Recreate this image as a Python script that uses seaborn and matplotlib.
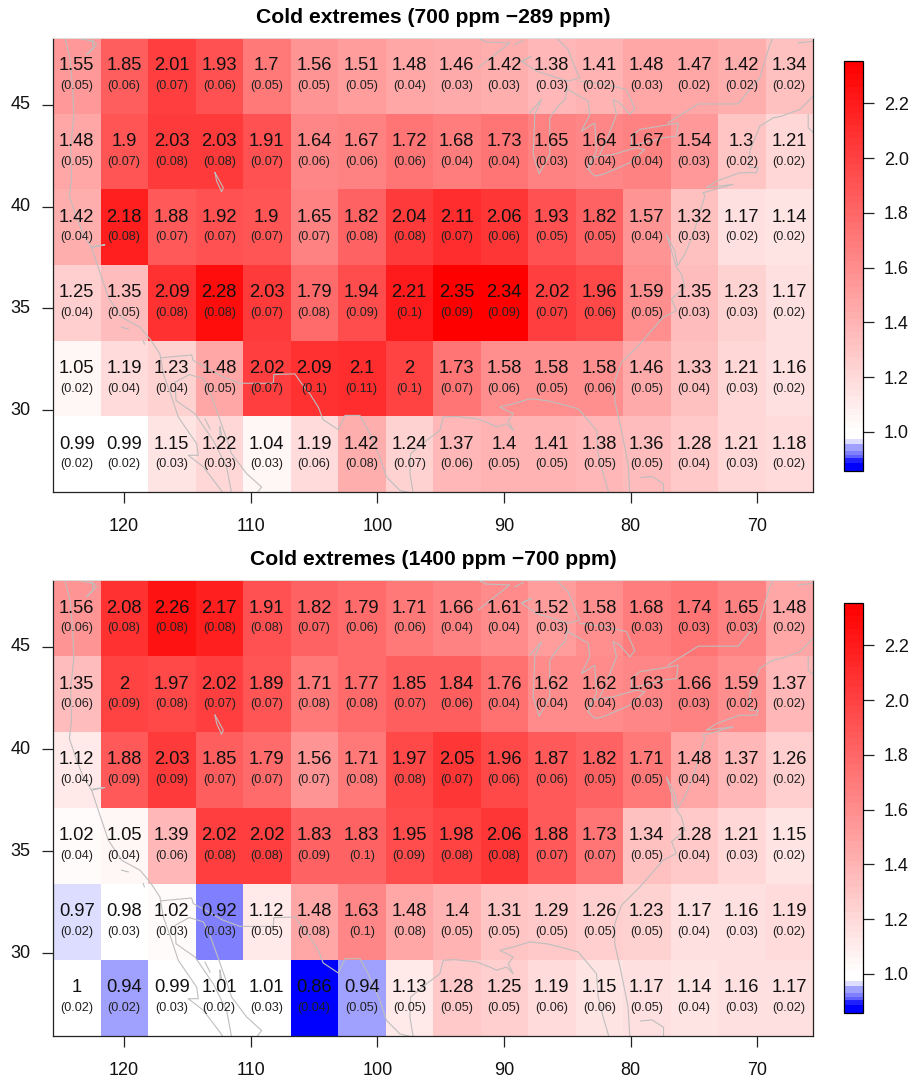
import numpy as np
import matplotlib
matplotlib.use("Agg")
import matplotlib.pyplot as plt
from matplotlib.colors import ListedColormap, BoundaryNorm
import seaborn as sns

titles = ["Cold extremes (700 ppm \u2212289 ppm)", "Cold extremes (1400 ppm \u2212700 ppm)"]

ratio_700 = [
    [1.55, 1.85, 2.01, 1.93, 1.7, 1.56, 1.51, 1.48, 1.46, 1.42, 1.38, 1.41, 1.48, 1.47, 1.42, 1.34],
    [1.48, 1.9, 2.03, 2.03, 1.91, 1.64, 1.67, 1.72, 1.68, 1.73, 1.65, 1.64, 1.67, 1.54, 1.3, 1.21],
    [1.42, 2.18, 1.88, 1.92, 1.9, 1.65, 1.82, 2.04, 2.11, 2.06, 1.93, 1.82, 1.57, 1.32, 1.17, 1.14],
    [1.25, 1.35, 2.09, 2.28, 2.03, 1.79, 1.94, 2.21, 2.35, 2.34, 2.02, 1.96, 1.59, 1.35, 1.23, 1.17],
    [1.05, 1.19, 1.23, 1.48, 2.02, 2.09, 2.1, 2, 1.73, 1.58, 1.58, 1.58, 1.46, 1.33, 1.21, 1.16],
    [0.99, 0.99, 1.15, 1.22, 1.04, 1.19, 1.42, 1.24, 1.37, 1.4, 1.41, 1.38, 1.36, 1.28, 1.21, 1.18],
]
se_700 = [
    [.05, .06, .07, .06, .05, .05, .05, .04, .03, .03, .03, .02, .03, .02, .02, .02],
    [.05, .07, .08, .08, .07, .06, .06, .06, .04, .04, .03, .04, .04, .03, .02, .02],
    [.04, .08, .07, .07, .07, .07, .08, .08, .07, .06, .05, .05, .04, .03, .02, .02],
    [.04, .05, .08, .08, .07, .08, .09, .1, .09, .09, .07, .06, .05, .03, .03, .02],
    [.02, .04, .04, .05, .07, .1, .11, .1, .07, .06, .05, .06, .05, .04, .03, .02],
    [.02, .02, .03, .03, .03, .06, .08, .07, .06, .05, .05, .05, .05, .04, .03, .02],
]
ratio_1400 = [
    [1.56, 2.08, 2.26, 2.17, 1.91, 1.82, 1.79, 1.71, 1.66, 1.61, 1.52, 1.58, 1.68, 1.74, 1.65, 1.48],
    [1.35, 2, 1.97, 2.02, 1.89, 1.71, 1.77, 1.85, 1.84, 1.76, 1.62, 1.62, 1.63, 1.66, 1.59, 1.37],
    [1.12, 1.88, 2.03, 1.85, 1.79, 1.56, 1.71, 1.97, 2.05, 1.96, 1.87, 1.82, 1.71, 1.48, 1.37, 1.26],
    [1.02, 1.05, 1.39, 2.02, 2.02, 1.83, 1.83, 1.95, 1.98, 2.06, 1.88, 1.73, 1.34, 1.28, 1.21, 1.15],
    [0.97, 0.98, 1.02, 0.92, 1.12, 1.48, 1.63, 1.48, 1.4, 1.31, 1.29, 1.26, 1.23, 1.17, 1.16, 1.19],
    [1, 0.94, 0.99, 1.01, 1.01, 0.86, 0.94, 1.13, 1.28, 1.25, 1.19, 1.15, 1.17, 1.14, 1.16, 1.17],
]
se_1400 = [
    [.06, .08, .08, .08, .08, .07, .06, .06, .04, .04, .03, .03, .03, .03, .03, .02],
    [.06, .09, .08, .07, .07, .08, .08, .07, .06, .04, .04, .04, .03, .03, .02, .02],
    [.04, .09, .09, .07, .07, .07, .08, .08, .07, .06, .06, .05, .05, .04, .02, .02],
    [.04, .04, .06, .08, .08, .09, .1, .09, .08, .08, .07, .07, .05, .04, .03, .02],
    [.02, .03, .03, .03, .05, .08, .1, .08, .05, .05, .05, .05, .05, .04, .03, .02],
    [.02, .02, .03, .02, .03, .04, .05, .05, .05, .05, .06, .06, .05, .04, .03, .02],
]

lon_ticks = [120, 110, 100, 90, 80, 70]
lat_ticks = [30, 35, 40, 45]
cbar_ticks = [1.0, 1.2, 1.4, 1.6, 1.8, 2.0, 2.2]

# map outlines, (lon W, lat N)
west_coast = [(124.66, 48.28), (124.26, 47.30), (124.05, 45.83), (123.95, 44.52), (124.21, 42.89), (124.13, 41.42),
              (124.31, 40.52), (123.73, 39.46), (123.21, 38.64), (122.55, 37.99), (122.29, 37.50), (122.03, 37.01),
              (121.76, 36.52), (121.23, 35.54), (120.18, 34.56), (118.73, 34.07), (117.95, 33.50), (117.16, 32.76),
              (116.89, 31.78), (116.23, 30.64), (115.71, 29.66), (114.26, 28.35), (114.13, 27.78), (114.92, 27.78),
              (113.73, 27.21), (112.42, 26.14), (112.16, 25.9)]
baja_east = [(114.84, 31.75), (115.97, 31.37), (115.89, 30.47), (114.39, 29.82), (112.95, 28.51), (111.89, 27.21), (111.5, 25.9)]
mexico_west = [(114.84, 31.75), (113.73, 31.54), (113.21, 30.88), (112.68, 29.98), (112.03, 28.84), (111.5, 27.86),
               (110.31, 26.88), (109.13, 26.22), (109.53, 25.9)]
south_border = [(117.08, 32.57), (114.66, 32.71), (114.53, 32.44), (112.16, 31.62), (110.84, 31.32), (108.21, 31.32),
                (108.16, 31.75), (106.5, 31.78), (106.05, 31.37), (105.32, 30.8), (104.66, 30.15), (104.27, 29.53),
                (103.08, 29.04), (102.55, 29.74), (101.37, 29.74), (100.72, 29.0), (99.8, 27.69), (99.27, 26.72),
                (98.22, 26.06), (97.16, 25.9)]
gulf_coast = [(97.16, 25.9), (97.42, 26.88), (97.37, 27.86), (96.11, 28.51), (95.06, 29.0), (94.79, 29.66), (93.87, 29.69),
              (92.16, 29.58), (91.11, 29.33), (90.58, 29.17), (89.79, 29.33), (89.27, 29.0), (89.66, 29.49), (89.27, 29.82),
              (90.32, 30.15), (89.27, 30.31), (87.95, 30.56), (86.63, 30.47), (85.58, 30.31), (84.14, 30.07), (82.69, 29.0),
              (82.56, 27.86), (82.17, 26.88), (81.7, 25.9)]
east_coast = [(80.06, 25.9), (80.2, 27.37), (80.72, 29.0), (81.25, 30.47), (81.25, 31.45), (80.72, 32.35), (79.27, 33.25),
              (77.43, 34.56), (76.38, 34.89), (76.77, 35.46), (75.72, 36.03), (75.98, 36.68), (76.38, 37.01), (76.77, 37.82),
              (77.17, 38.64), (76.51, 37.82), (76.3, 37.1), (75.72, 37.66), (75.06, 38.64), (74.14, 40.52), (74.27, 40.68),
              (71.9, 41.09), (74.01, 40.93), (73.22, 41.25), (71.38, 41.66), (70.06, 41.66), (69.93, 41.91), (70.59, 41.91),
              (70.59, 42.72), (69.8, 43.95), (68.75, 44.36), (68.09, 44.44), (66.64, 44.77), (65.59, 45.42)]
nova_scotia = [(65.98, 44.52), (65.98, 43.87), (65.54, 43.62)]
gaspe = [(66.77, 48.04), (65.54, 48.12)]
lake_erie = [(83.35, 41.83), (82.83, 41.5), (82.17, 41.58), (80.06, 42.15), (78.88, 42.8), (79.54, 42.89), (81.38, 42.56),
             (82.83, 42.43), (83.35, 41.83)]
lake_ontario = [(79.93, 42.97), (79.93, 43.46), (79.27, 43.79), (77.17, 44.0), (76.25, 44.11), (76.38, 43.46), (77.43, 43.38),
                (79.93, 42.97)]
north_border = [(77.04, 44.11), (74.67, 45.04), (71.51, 45.04), (71.12, 45.34), (69.8, 46.32), (69.01, 47.95), (68.75, 48.28)]
superior_north = [(92.04, 48.28), (91.38, 48.08), (89.54, 48.04), (92.04, 46.81)]
isle_royale = [(89.14, 47.95), (88.48, 48.15)]
superior_south = [(88.61, 47.14), (87.83, 47.38), (88.61, 47.14), (87.43, 46.65), (84.93, 46.16), (84.01, 46.32), (84.27, 46.65),
                  (84.93, 47.71), (85.85, 48.28)]
lake_michigan = [(84.93, 45.91), (85.19, 45.26), (85.72, 44.93), (86.38, 44.36), (86.38, 42.56), (87.22, 41.61), (87.69, 42.56),
                 (87.56, 44.52), (87.04, 45.26), (87.96, 44.6)]
huron_west = [(84.93, 45.75), (83.35, 45.18), (83.22, 44.52), (83.88, 43.7), (82.83, 44.11), (82.69, 42.72), (83.35, 41.99)]
huron_east = [(84.01, 46.16), (81.91, 45.99), (80.33, 45.75), (79.67, 44.82), (80.06, 44.52), (80.85, 45.09), (81.38, 45.26),
              (81.12, 44.52), (81.77, 43.46), (82.43, 42.56)]
salt_lake = [(112.81, 41.66), (112.16, 40.93), (112.29, 40.73), (112.68, 41.25), (112.81, 41.66)]
sf_bay = [(122.55, 37.99), (121.5, 38.12), (122.42, 38.05)]
puget = [(123.73, 48.28), (122.42, 48.12), (122.16, 47.95), (122.95, 47.46), (122.42, 47.79), (122.55, 48.28)]
channel_isl = [(120.18, 34.07), (119.66, 33.99)]
catalina = [(118.47, 33.42), (118.39, 33.25)]
gulf_isl1 = [(113.6, 29.57), (113.2, 29.08)]
gulf_isl2 = [(112.42, 29.17), (112.29, 28.76), (112.42, 28.76), (112.42, 29.17)]
cuba_bit = [(79.2, 26.69), (78.3, 26.74), (77.4, 26.38), (77.4, 25.9)]
outlines = [west_coast, baja_east, mexico_west, south_border, gulf_coast, east_coast, nova_scotia, gaspe, lake_erie,
            lake_ontario, north_border, superior_north, isle_royale, superior_south, lake_michigan, huron_west,
            huron_east, salt_lake, sf_bay, puget, channel_isl, catalina, gulf_isl1, gulf_isl2, cuba_bit]

LON_LEFT = 125.6
LON_STEP = 3.75
LAT_TOP = 48.28
LAT_STEP = 3.717

def lon2x(lon):
    return (LON_LEFT - np.asarray(lon)) / LON_STEP

def lat2y(lat):
    return (LAT_TOP - np.asarray(lat)) / LAT_STEP

# colours: few blue steps below 1, then white to red
blue_edges = [0.8575, 0.885, 0.905, 0.915, 0.93, 0.955, 0.975]
blue_lev = ["#0000FF", "#2020FF", "#6060FF", "#8080FF", "#A0A0FF", "#DDDDFF"]
red_edges = list(np.linspace(0.99, 2.355, 59))
g = np.linspace(1, 0, 58)
red_lev = [(1, v, v) for v in g]
cmap = ListedColormap(blue_lev + [(1, 1, 1)] + red_lev)
norm = BoundaryNorm(blue_edges + red_edges, cmap.N)

W, H = 917, 1079
plt.rcParams['font.family'] = ['Liberation Sans', 'DejaVu Sans']
fig = plt.figure(figsize=(W / 100, H / 100), dpi=100)

def panel(ratio, se, title, top, bottom, cb_top, cb_bottom):
    ax = fig.add_axes([53 / W, 1 - bottom / H, 760 / W, (bottom - top) / H])
    cax = fig.add_axes([844 / W, 1 - cb_bottom / H, 19 / W, (cb_bottom - cb_top) / H])
    sns.heatmap(np.array(ratio), ax=ax, cbar_ax=cax, cmap=cmap, norm=norm,
                cbar_kws={'ticks': cbar_ticks, 'spacing': 'proportional', 'format': '%.1f'})
    cbar = ax.collections[0].colorbar
    ax.set_xlim(0, 16)
    ax.set_ylim(6, 0)
    for line in outlines:
        lon, lat = zip(*line)
        ax.plot(lon2x(lon), lat2y(lat), color='#BEBEBE', lw=0.8, solid_joinstyle='round')
    for i in range(6):
        for j in range(16):
            ax.text(j + 0.5, i + 0.5 - 0.13, f"{ratio[i][j]:g}", ha='center', va='center', fontsize=13.2, color='#111111')
            ax.text(j + 0.5, i + 0.5 + 0.135, f"({se[i][j]:g})", ha='center', va='center', fontsize=9.1, color='#222222')
    ax.set_xticks(lon2x(lon_ticks))
    ax.set_xticklabels([str(v) for v in lon_ticks], rotation=0, fontsize=13)
    ax.set_yticks(lat2y(lat_ticks))
    ax.set_yticklabels([str(v) for v in lat_ticks], rotation=0, fontsize=13)
    ax.tick_params(axis='x', length=8, width=0.9, pad=11, color='#222222', labelcolor='#111111')
    ax.tick_params(axis='y', length=8, width=0.9, pad=8, color='#222222', labelcolor='#111111')
    ax.set_xlabel('')
    ax.set_ylabel('')
    for name in ['left', 'bottom', 'right']:
        ax.spines[name].set_visible(True)
        ax.spines[name].set_linewidth(0.9)
        ax.spines[name].set_color('#222222')
    ax.spines['top'].set_visible(True)
    ax.spines['top'].set_linewidth(0.7)
    ax.spines['top'].set_color('#DDDDDD')
    ax.set_title(title, fontsize=15.2, fontweight='bold', pad=10.5, x=0.5)
    cax.tick_params(axis='y', length=8, width=0.9, pad=7, labelsize=13, color='#222222', labelcolor='#111111')
    cax.minorticks_off()
    cbar.outline.set_visible(True)
    cbar.outline.set_linewidth(0.9)
    cbar.outline.set_edgecolor('black')

panel(ratio_700, se_700, titles[0], 38, 492, 61, 471)
panel(ratio_1400, se_1400, titles[1], 580, 1035.5, 603, 1013)

fig.savefig("out.png", dpi=100, facecolor='white')
